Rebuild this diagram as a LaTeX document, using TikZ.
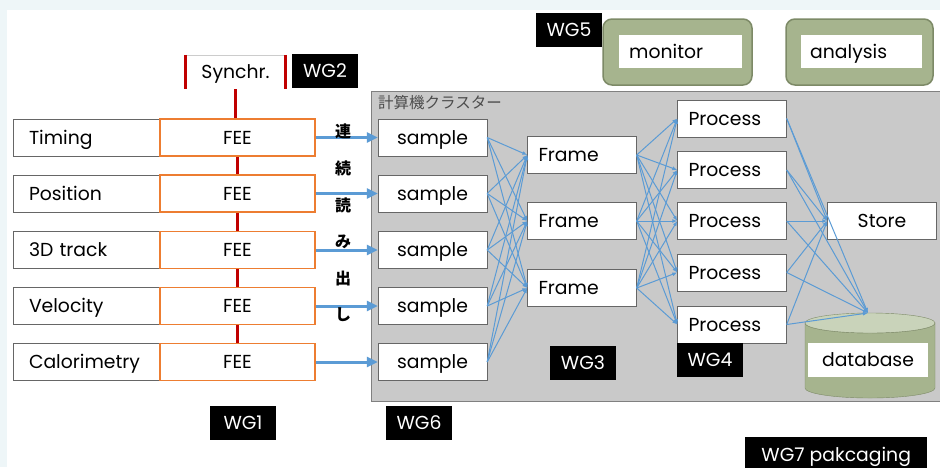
\documentclass[tikz,border=0pt]{standalone}
\usepackage{fontspec}
\setmainfont{Poppins}
\newfontfamily\jpfont{Noto Sans CJK JP}
\usetikzlibrary{arrows.meta}
\definecolor{feeorange}{HTML}{ED7D31}
\definecolor{syncred}{HTML}{C00000}
\definecolor{linkblue}{HTML}{5B9BD5}
\definecolor{clustergray}{HTML}{C9C9C9}
\definecolor{sage}{HTML}{A6B48E}
\definecolor{sagedark}{HTML}{7D8A67}
\definecolor{sagelight}{HTML}{C9D3BA}
\definecolor{pagetint}{HTML}{EEF6F8}

\begin{document}
\begin{tikzpicture}[x=1pt, y=-1pt, font=\fontsize{18.8}{21}\selectfont,
    txt/.style ={text height=14pt, text depth=1pt},
    detector/.style ={txt, draw=black!60, fill=white, minimum width=147pt, minimum height=37pt,
                      inner xsep=16pt, text width=115pt, align=left},
    fee/.style ={txt, draw=feeorange, line width=1.5pt, fill=white, minimum width=155pt, minimum height=37pt},
    cell/.style ={txt, draw=black!60, fill=white, minimum width=109pt, minimum height=37pt},
    leftcell/.style ={cell, text width=87pt, inner xsep=11pt, align=left},
    wg/.style ={txt, fill=black, text=white, minimum width=66pt, minimum height=34pt},
    greenbox/.style ={draw=sagedark, fill=sage, line width=1.5pt, rounded corners=9pt},
    tag/.style ={txt, fill=white, minimum height=33pt, text width=103pt, align=left, anchor=west},
    syncline/.style ={syncred, line width=3.5pt},
    feed/.style ={linkblue, line width=3pt, -{Triangle[length=11pt,width=10pt]}},
    link/.style ={linkblue, line width=1pt, -{Latex[length=5pt,width=4pt]}}]
   \useasboundingbox (0,0) rectangle (940,467);
   \fill[pagetint] (0,0) rectangle (940,467);
   \fill[white] (7,10) rectangle (940,467);

   % cluster
   \draw[black!50, fill=clustergray] (941,91) -- (371,91) -- (371,401) -- (941,401);
   \node[anchor=west, inner xsep=2pt, text=black!70, font=\jpfont\fontsize{15.5}{17}\selectfont] (cluster) at (376,103) {計算機クラスター};

   % synchronisation
   \node[txt, minimum width=100pt, minimum height=34pt] (sync) at (235.5,72) {Synchr.};
   \draw[black!20] (sync.north west) -- (sync.north east);
   \draw[syncred, line width=3.5pt] (sync.north west) -- (sync.south west);
   \draw[syncred, line width=3.5pt] (sync.north east) -- (sync.south east);
   \node[wg] (wg2) at (325,70.5) {WG2};

   % detectors, FEE and readout
   \foreach \n/\y/\lbl in {1/137.5/Timing, 2/193.5/Position, 3/250/3D track, 4/306/Velocity, 5/362/Calorimetry} {
     \node[detector] (det\n) at (86.5,\y) {\lbl};
     \node[fee] (fee\n) at (237.5,\y) {FEE};
     \node[cell] (smp\n) at (432.5,\y) {sample};
     \draw[feed] (fee\n) -- (smp\n);
   }
   \draw[syncline] (sync.south) -- (sync.south |- fee1.north);
   \foreach \a/\b in {1/2, 2/3, 3/4, 4/5}
     \draw[syncline] (fee\a) -- (fee\b);

   \foreach \c/\y in {連/131, 続/168, 読/205, み/242, 出/279, し/315}
     \node[font=\jpfont\bfseries\fontsize{16}{17}\selectfont] (yomi-\y) at (343,\y) {\c};

   % frames, processes, storage
   \foreach \n/\y in {1/155, 2/221, 3/288}
     \node[leftcell] (frm\n) at (582,\y) {Frame};
   \foreach \n/\y in {1/118.5, 2/170, 3/221, 4/272.5, 5/324.5}
     \node[leftcell] (prc\n) at (732,\y) {Process};
   \node[cell] (store) at (882,221) {Store};

   \fill[sage, draw=sagedark] (805,323) -- (805,388) arc[start angle=180, end angle=0, x radius=65, y radius=10]
      -- (935,323) arc[start angle=0, end angle=180, x radius=65, y radius=10] -- cycle;
   \filldraw[fill=sagelight, draw=sagedark] (870,323) ellipse[x radius=65, y radius=10];
   \coordinate (dbtop) at (868,313);
   \node[txt, fill=white, minimum width=120pt, minimum height=34pt] (db) at (868,360) {database};

   \foreach \s in {1,...,5}
     \foreach \f in {1,2,3}
       \draw[link] (smp\s.east) -- (frm\f.west);
   \foreach \f in {1,2,3}
     \foreach \p in {1,...,5}
       \draw[link] (frm\f.east) -- (prc\p.west);
   \foreach \p in {1,...,5} {
     \draw[link] (prc\p.east) -- (store.west);
     \draw[link] (prc\p.east) -- (dbtop);
   }

   % monitoring
   \node[greenbox, minimum width=149pt, minimum height=66pt] (monbox) at (677.5,52) {};
   \node[tag, inner xsep=10pt] (monitor) at (619,51.5) {monitor};
   \node[greenbox, minimum width=147pt, minimum height=66pt] (anabox) at (859.5,52) {};
   \node[tag, inner xsep=9pt] (analysis) at (801,51.5) {analysis};

   % working groups
   \node[wg] (wg5) at (569,30) {WG5};
   \node[wg] (wg1) at (243,422.5) {WG1};
   \node[wg] (wg6) at (419,422.5) {WG6};
   \node[wg] (wg3) at (583,362.5) {WG3};
   \node[wg] (wg4) at (710,359.5) {WG4};
   \node[wg, anchor=north west, minimum width=182pt, minimum height=36pt] (wg7) at (745,437) {WG7 pakcaging};
\end{tikzpicture}
\end{document}
